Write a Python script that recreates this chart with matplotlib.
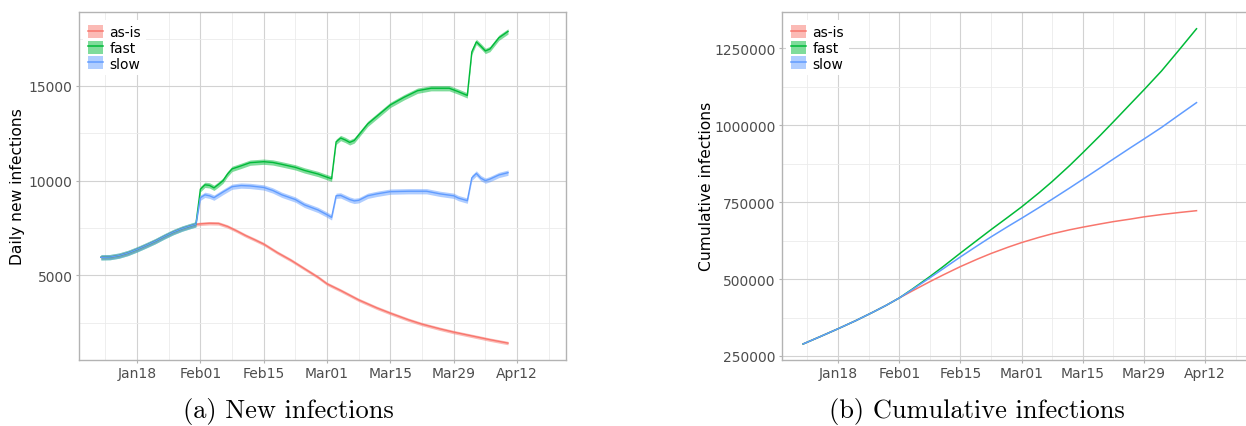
import numpy as np
import pandas as pd
import matplotlib
matplotlib.use("Agg")
import matplotlib.pyplot as plt
import matplotlib.dates as mdates
import matplotlib.ticker as mticker
from matplotlib.patches import Patch
from matplotlib.lines import Line2D

# --- data ---
# daily new infections, shared part before the scenarios split
early_dates = ["2021-01-10", "2021-01-12", "2021-01-14", "2021-01-16", "2021-01-18", "2021-01-20",
               "2021-01-22", "2021-01-24", "2021-01-26", "2021-01-28", "2021-01-30", "2021-01-31"]
early_daily = [5950, 5960, 6040, 6180, 6370, 6580, 6800, 7050, 7280, 7470, 7620, 7690]

asis_dates = ["2021-02-01", "2021-02-03", "2021-02-05", "2021-02-07", "2021-02-09", "2021-02-11",
              "2021-02-13", "2021-02-15", "2021-02-18", "2021-02-21", "2021-02-24", "2021-02-27",
              "2021-03-01", "2021-03-04", "2021-03-08", "2021-03-12", "2021-03-15", "2021-03-19",
              "2021-03-22", "2021-03-26", "2021-03-29", "2021-04-02", "2021-04-06", "2021-04-10"]
asis_daily = [7720, 7750, 7740, 7580, 7350, 7100, 6880, 6650, 6200, 5800, 5350, 4900,
              4550, 4200, 3700, 3280, 3000, 2650, 2420, 2170, 2000, 1800, 1600, 1420]

fast_dates = ["2021-02-01", "2021-02-02", "2021-02-03", "2021-02-04", "2021-02-05", "2021-02-06",
              "2021-02-07", "2021-02-08", "2021-02-10", "2021-02-12", "2021-02-15", "2021-02-17",
              "2021-02-19", "2021-02-22", "2021-02-24", "2021-02-27", "2021-03-01", "2021-03-02",
              "2021-03-03", "2021-03-04", "2021-03-05", "2021-03-06", "2021-03-07", "2021-03-10",
              "2021-03-12", "2021-03-15", "2021-03-18", "2021-03-21", "2021-03-24", "2021-03-28",
              "2021-03-30", "2021-04-01", "2021-04-02", "2021-04-03", "2021-04-04", "2021-04-05",
              "2021-04-06", "2021-04-08", "2021-04-10"]
fast_daily = [9550, 9780, 9750, 9620, 9800, 10000, 10350, 10620, 10780, 10950, 11000, 10960,
              10860, 10700, 10540, 10350, 10180, 10100, 12050, 12250, 12150, 12020, 12120, 13000,
              13400, 14000, 14400, 14750, 14880, 14880, 14700, 14500, 16800, 17330, 17100, 16850,
              16950, 17550, 17880]

slow_dates = ["2021-02-01", "2021-02-02", "2021-02-03", "2021-02-04", "2021-02-06", "2021-02-08",
              "2021-02-10", "2021-02-12", "2021-02-15", "2021-02-17", "2021-02-19", "2021-02-22",
              "2021-02-24", "2021-02-27", "2021-03-01", "2021-03-02", "2021-03-03", "2021-03-04",
              "2021-03-06", "2021-03-07", "2021-03-08", "2021-03-10", "2021-03-12", "2021-03-15",
              "2021-03-19", "2021-03-23", "2021-03-26", "2021-03-29", "2021-03-30", "2021-04-01",
              "2021-04-02", "2021-04-03", "2021-04-04", "2021-04-05", "2021-04-06", "2021-04-08",
              "2021-04-10"]
slow_daily = [9100, 9250, 9200, 9100, 9400, 9680, 9740, 9720, 9640, 9480, 9250, 9000,
              8720, 8450, 8200, 8060, 9200, 9220, 9000, 8930, 8960, 9200, 9300, 9420,
              9440, 9440, 9300, 9200, 9080, 8940, 10150, 10380, 10130, 10000, 10080, 10300,
              10420]

# half width of the uncertainty ribbon on the daily curves
ribbon_half = {"as-is": 90, "fast": 140, "slow": 140}

# cumulative infections
cum_early_dates = ["2021-01-10", "2021-01-14", "2021-01-18", "2021-01-22", "2021-01-26",
                   "2021-01-29", "2021-02-01"]
cum_early = [289000, 313500, 338500, 364500, 392500, 414500, 438500]

cum_dates = ["2021-02-04", "2021-02-08", "2021-02-11", "2021-02-15", "2021-02-19", "2021-02-22",
             "2021-02-26", "2021-03-01", "2021-03-05", "2021-03-08", "2021-03-12", "2021-03-15",
             "2021-03-19", "2021-03-22", "2021-03-26", "2021-03-29", "2021-04-02", "2021-04-06",
             "2021-04-10"]
cum_asis = [461500, 491500, 513000, 540500, 565500, 583000, 604000, 618500, 635500, 647000,
            660000, 668500, 679000, 686500, 695000, 702000, 709500, 716000, 722000]
cum_fast = [467500, 508000, 540000, 584500, 628000, 660500, 702500, 734500, 780500, 817000,
            869000, 910500, 967000, 1011000, 1070500, 1115000, 1176000, 1244000, 1313000]
cum_slow = [466000, 504000, 533000, 572000, 609500, 637000, 672000, 697500, 732500, 759500,
            796000, 824000, 861500, 890000, 927500, 955000, 992500, 1033000, 1073000]

scenarios = ["as-is", "fast", "slow"]
colors = {"as-is": "#F8766D", "fast": "#00BA38", "slow": "#619CFF"}

major_dates = ["2021-01-18", "2021-02-01", "2021-02-15", "2021-03-01", "2021-03-15",
               "2021-03-29", "2021-04-12"]
minor_dates = ["2021-01-11", "2021-01-25", "2021-02-08", "2021-02-22", "2021-03-08",
               "2021-03-22", "2021-04-05", "2021-04-19"]

daily = {
    "as-is": (early_dates + asis_dates, early_daily + asis_daily),
    "fast": (early_dates + fast_dates, early_daily + fast_daily),
    "slow": (early_dates + slow_dates, early_daily + slow_daily),
}
cumulative = {
    "as-is": (cum_early_dates + cum_dates, cum_early + cum_asis),
    "fast": (cum_early_dates + cum_dates, cum_early + cum_fast),
    "slow": (cum_early_dates + cum_dates, cum_early + cum_slow),
}


def style_axes(ax, yticks, yminor):
    ax.set_facecolor("white")
    for s in ax.spines.values():
        s.set_color("#B3B3B3")
        s.set_linewidth(1.0)
    ax.xaxis.set_major_locator(mticker.FixedLocator(mdates.date2num(pd.to_datetime(major_dates))))
    ax.xaxis.set_minor_locator(mticker.FixedLocator(mdates.date2num(pd.to_datetime(minor_dates))))
    ax.xaxis.set_major_formatter(mdates.DateFormatter("%b%d"))
    ax.yaxis.set_major_locator(mticker.FixedLocator(yticks))
    ax.yaxis.set_minor_locator(mticker.FixedLocator(yminor))
    ax.yaxis.set_major_formatter(mticker.FuncFormatter(lambda v, p: "%d" % v))
    ax.tick_params(which="major", length=2.5, width=0.8, color="#B3B3B3",
                   labelcolor="#4D4D4D", labelsize=10, pad=2)
    ax.tick_params(which="minor", length=0)
    ax.grid(which="major", color="#D2D2D2", linewidth=0.8)
    ax.grid(which="minor", color="#EBEBEB", linewidth=0.6)
    ax.set_axisbelow(True)
    ax.set_xlim(pd.Timestamp("2021-01-05 04:00"), pd.Timestamp("2021-04-22 20:00"))


def add_legend(ax):
    handles = [(Patch(facecolor=colors[k], alpha=0.5, edgecolor="none"),
                Line2D([], [], color=colors[k], lw=1.1)) for k in scenarios]
    ax.legend(handles, scenarios, loc="upper left", bbox_to_anchor=(0.008, 0.975),
              frameon=True, fancybox=False, edgecolor="none", framealpha=1,
              fontsize=10, handlelength=1.1, handleheight=1.05, labelspacing=0.1,
              handletextpad=0.45, borderpad=0.35, borderaxespad=0)


fig = plt.figure(figsize=(12.46, 4.27), dpi=100)
ax1 = fig.add_axes([0.0634, 0.1546, 0.3909, 0.8157])
ax2 = fig.add_axes([0.6276, 0.1546, 0.3777, 0.8157])

# (a) daily new infections with ribbons
for k in scenarios:
    d, v = daily[k]
    d = pd.to_datetime(d)
    v = np.array(v, dtype=float)
    ax1.fill_between(d, v - ribbon_half[k], v + ribbon_half[k], color=colors[k],
                     alpha=0.5, linewidth=0)
    ax1.plot(d, v, color=colors[k], lw=1.0)
style_axes(ax1, [5000, 10000, 15000], [2500, 7500, 12500, 17500])
ax1.set_ylim(528, 18923)
ax1.set_ylabel("Daily new infections", fontsize=11.2)
ax1.yaxis.set_label_coords(-0.111, 0.5)
add_legend(ax1)

# (b) cumulative infections
for k in scenarios:
    d, v = cumulative[k]
    ax2.plot(pd.to_datetime(d), v, color=colors[k], lw=1.1)
style_axes(ax2, [250000, 500000, 750000, 1000000, 1250000], [375000, 625000, 875000, 1125000])
ax2.set_ylim(237000, 1368500)
ax2.set_ylabel("Cumulative infections", fontsize=11.2)
ax2.yaxis.set_label_coords(-0.145, 0.5)
add_legend(ax2)

# captions below the panels
fig.text(288 / 1246, 1 - 412 / 427, "(a) New infections", family="cmr10", fontsize=19,
         ha="center", va="center")
fig.text(977 / 1246, 1 - 412 / 427, "(b) Cumulative infections", family="cmr10", fontsize=19,
         ha="center", va="center")

fig.savefig("out.png", dpi=100)
